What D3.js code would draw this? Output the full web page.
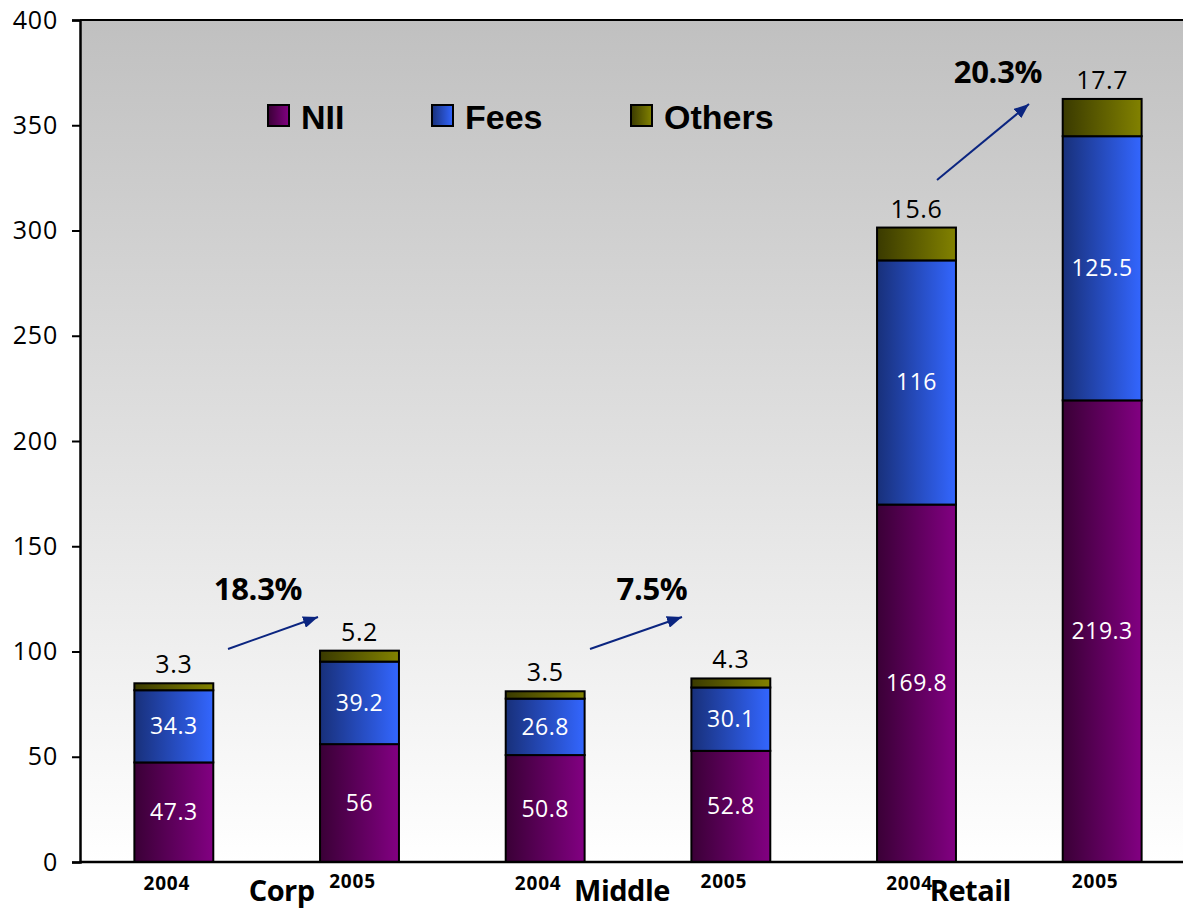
<!DOCTYPE html>
<html><head><meta charset="utf-8">
<script src="https://cdn.jsdelivr.net/npm/d3@7"></script>
<style>body{margin:0;background:#fff}svg{display:block}</style>
</head><body>
<svg id="c" width="1183" height="909"></svg>
<script>
const groups = ["Corp","Middle","Retail"];
const years = ["2004","2005"];
const bars = ["Corp 2004","Corp 2005","Middle 2004","Middle 2005","Retail 2004","Retail 2005"];
const nii = [47.3, 56, 50.8, 52.8, 169.8, 219.3];
const fees = [34.3, 39.2, 26.8, 30.1, 116, 125.5];
const others = [3.3, 5.2, 3.5, 4.3, 15.6, 17.7];
const growth = ["18.3%","7.5%","20.3%"];
const yTicks = [0,50,100,150,200,250,300,350,400];
const seriesNames = ["NII","Fees","Others"];

const svg = d3.select("#c");
const M = {l:80, t:20, b:862, r:1195};
const x = d3.scaleBand().domain(bars).range([M.l+1, M.r]).paddingInner(0.575).paddingOuter(0.2875);
const y = d3.scaleLinear().domain([0,400]).range([M.b, M.t]);

const defs = svg.append("defs");
const bg = defs.append("linearGradient").attr("id","bg").attr("x1",0).attr("y1",0).attr("x2",0).attr("y2",1);
bg.append("stop").attr("offset","0%").attr("stop-color","#c0c0c0");
bg.append("stop").attr("offset","100%").attr("stop-color","#ffffff");
const cols = [["#3a0036","#820082"],["#18307a","#3366ff"],["#3a3a00","#828200"]];
cols.forEach((c,i)=>{
  const g = defs.append("linearGradient").attr("id","g"+i).attr("x1",0).attr("y1",0).attr("x2",1).attr("y2",0);
  g.append("stop").attr("offset","0%").attr("stop-color",c[0]);
  g.append("stop").attr("offset","100%").attr("stop-color",c[1]);
});
const mk = defs.append("marker").attr("id","arr").attr("viewBox","0 0 10 10").attr("refX",10).attr("refY",5)
  .attr("markerWidth",15).attr("markerHeight",12).attr("markerUnits","userSpaceOnUse").attr("orient","auto")
  .attr("preserveAspectRatio","none");
mk.append("path").attr("d","M0,0L10,5L0,10z").attr("fill","#0b2580");

svg.append("rect").attr("x",M.l).attr("y",M.t).attr("width",1183-M.l).attr("height",M.b-M.t).attr("fill","url(#bg)");

// y axis
const ya = svg.append("g").attr("transform",`translate(${M.l},0)`)
  .call(d3.axisLeft(y).tickValues(yTicks).tickSize(8).tickPadding(14));
ya.select(".domain").attr("stroke","#000").attr("stroke-width",2.5);
ya.selectAll(".tick line").attr("stroke","#000").attr("stroke-width",2);
ya.selectAll(".tick text").attr("font-family","'Open Sans',sans-serif").attr("font-size",25).attr("letter-spacing",0.8).attr("fill","#000");
svg.append("line").attr("x1",M.l).attr("x2",1183).attr("y1",M.t).attr("y2",M.t).attr("stroke","#000").attr("stroke-width",2);

// stacked bars
const data = bars.map((b,i)=>({key:b, NII:nii[i], Fees:fees[i], Others:others[i]}));
const stack = d3.stack().keys(seriesNames)(data);
stack.forEach((s,si)=>{
  svg.append("g").selectAll("rect").data(s).join("rect")
    .attr("x",d=>x(d.data.key)).attr("width",x.bandwidth())
    .attr("y",d=>y(d[1])).attr("height",d=>y(d[0])-y(d[1]))
    .attr("fill",`url(#g${si})`).attr("stroke","#000").attr("stroke-width",2);
});
// inner labels
[0,1].forEach(si=>{
  svg.append("g").selectAll("text").data(stack[si]).join("text")
    .attr("x",d=>x(d.data.key)+x.bandwidth()/2)
    .attr("y",d=>(y(d[0])+y(d[1]))/2+8)
    .attr("text-anchor","middle").attr("font-family","'Open Sans',sans-serif").attr("font-size",23).attr("letter-spacing",0.5).attr("fill","#fff")
    .text(d=>d.data[seriesNames[si]]);
});
// others labels above
svg.append("g").selectAll("text").data(stack[2]).join("text")
  .attr("x",d=>x(d.data.key)+x.bandwidth()/2)
  .attr("y",d=>y(d[1])-10)
  .attr("text-anchor","middle").attr("font-family","'Open Sans',sans-serif").attr("font-size",25).attr("letter-spacing",0.6).attr("fill","#000")
  .text(d=>d.data.Others);

// x axis line
svg.append("line").attr("x1",M.l).attr("x2",1183).attr("y1",M.b).attr("y2",M.b).attr("stroke","#000").attr("stroke-width",2.5);
// year labels
svg.append("g").selectAll("text").data(bars).join("text")
  .attr("x",(d,i)=>x(d)+x.bandwidth()/2-7)
  .attr("y",(d,i)=>i%2?888:890)
  .attr("text-anchor","middle").attr("font-family","'Open Sans',sans-serif").attr("font-weight","bold").attr("font-size",19)
  .attr("letter-spacing",0.8)
  .text((d,i)=>years[i%2]);
// group labels
const gOff = [15,-16,-39];
svg.append("g").selectAll("text").data(groups).join("text")
  .attr("x",(d,i)=>(x(bars[2*i])+x(bars[2*i+1])+x.bandwidth())/2+gOff[i])
  .attr("y",901)
  .attr("text-anchor","middle").attr("font-family","'Open Sans',sans-serif").attr("font-weight","bold").attr("font-size",29)
  .attr("letter-spacing",-0.5)
  .text(d=>d);

// growth arrows
const arrows = [[228,649,318,617],[590,649,682,617],[937,180,1029,104]];
const pctPos = [[258,600],[652,600],[998,83]];
arrows.forEach((a,i)=>{
  svg.append("line").attr("x1",a[0]).attr("y1",a[1]).attr("x2",a[2]).attr("y2",a[3])
    .attr("stroke","#0b2580").attr("stroke-width",2).attr("marker-end","url(#arr)");
  svg.append("text").attr("x",pctPos[i][0]).attr("y",pctPos[i][1]).attr("text-anchor","middle")
    .attr("font-family","'Open Sans',sans-serif").attr("font-weight","bold").attr("font-size",31).attr("letter-spacing",-0.3)
    .text(growth[i]);
});

// legend
const legX = [268,432,631];
seriesNames.forEach((n,i)=>{
  svg.append("rect").attr("x",legX[i]).attr("y",105).attr("width",21).attr("height",21)
    .attr("fill",`url(#g${i})`).attr("stroke","#000").attr("stroke-width",2);
  svg.append("text").attr("x",legX[i]+33).attr("y",129)
    .attr("font-family","'Liberation Sans',Arial,sans-serif").attr("font-weight","bold").attr("font-size",34)
    .text(n);
});
</script>
</body></html>
